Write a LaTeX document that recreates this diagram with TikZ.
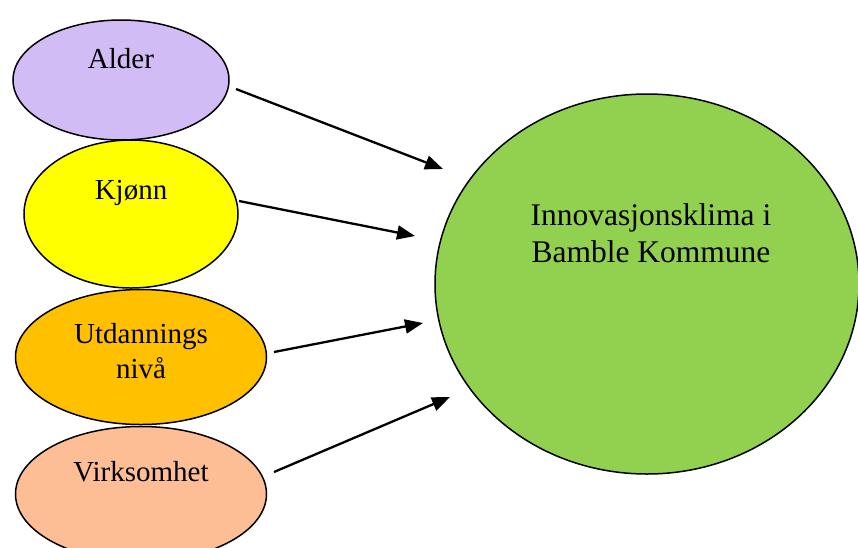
\documentclass[tikz,border=0pt]{standalone}
\usepackage{fontspec}
\setmainfont{Liberation Serif}
\usetikzlibrary{shapes.geometric,arrows.meta,calc}
\definecolor{lav}{HTML}{D2BCF5}
\definecolor{yel}{HTML}{FFFF00}
\definecolor{org}{HTML}{FFC000}
\definecolor{pch}{HTML}{FDBE96}
\definecolor{grn}{HTML}{92D050}
\tikzset{
  oval/.style={ellipse, draw=black, line width=1.5pt, inner sep=0pt},
  lbl/.style={font=\fontsize{29}{35}\selectfont, align=center, inner sep=0pt},
  biglbl/.style={font=\fontsize{31.5}{37}\selectfont, align=center, inner sep=0pt},
  arr/.style={-{Triangle[length=18pt,width=14pt]}, line width=2.3pt}
}
\begin{document}
\begin{tikzpicture}[x=1pt,y=-1pt]
\useasboundingbox (0,0) rectangle (858,547);
\clip (0,0) rectangle (858,547);
\node[oval, fill=lav, minimum width=216pt, minimum height=120pt] (alder) at (121,80) {};
\node[oval, fill=yel, minimum width=214pt, minimum height=148pt] (kjonn) at (131,214) {};
\node[oval, fill=org, minimum width=251pt, minimum height=135pt] (utd) at (141,357) {};
\node[oval, fill=pch, minimum width=251pt, minimum height=135pt] (virk) at (141,494) {};
\node[oval, fill=grn, minimum width=424pt, minimum height=380pt] (inno) at (647,284) {};

\node[lbl] (alderT) at ($(alder.center)+(0,-21)$) {Alder};
\node[lbl] (kjonnT) at ($(kjonn.center)+(0,-21)$) {Kjønn};
\node[lbl] (utdT) at ($(utd.center)+(0,-6)$) {Utdannings\\nivå};
\node[lbl] (virkT) at ($(virk.center)+(0,-22)$) {Virksomhet};
\node[biglbl] (innoT) at ($(inno.center)+(4,-51)$) {Innovasjonsklima i\\Bamble Kommune};

\coordinate (a1) at (236,89);  \coordinate (b1) at (443,169);
\coordinate (a2) at (239,201); \coordinate (b2) at (415,236);
\coordinate (a3) at (274,352); \coordinate (b3) at (423,323);
\coordinate (a4) at (274,472); \coordinate (b4) at (450,397);
\draw[arr] (a1) -- (b1);
\draw[arr] (a2) -- (b2);
\draw[arr] (a3) -- (b3);
\draw[arr] (a4) -- (b4);
\end{tikzpicture}
\end{document}
